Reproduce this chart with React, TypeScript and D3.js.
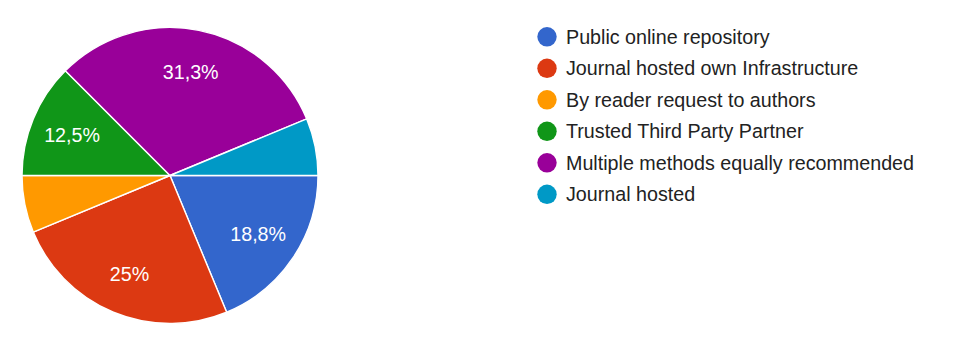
import React, { useEffect, useRef } from "react";
import * as d3 from "d3";

const categories = [
  "Public online repository",
  "Journal hosted own Infrastructure",
  "By reader request to authors",
  "Trusted Third Party Partner",
  "Multiple methods equally recommended",
  "Journal hosted",
];
const counts = [3, 4, 1, 2, 5, 1];
const colors = ["#3366cc", "#dc3912", "#ff9900", "#109618", "#990099", "#0099c6"];

const App: React.FC = () => {
  const svgRef = useRef<SVGSVGElement>(null);

  useEffect(() => {
    if (!svgRef.current) return;
    const svg = d3.select(svgRef.current);
    svg.selectAll("*").remove();

    const width = 957;
    const height = 345;
    const cx = 170;
    const cy = 175.5;
    const radius = 148;
    const font = "Arial, 'Liberation Sans', sans-serif";
    const fontSize = 19.7;

    const data = categories.map((name, i) => ({ name, value: counts[i], color: colors[i] }));
    const total = d3.sum(counts);

    const pie = d3
      .pie<any>()
      .sort(null)
      .value((d) => d.value)
      .startAngle(Math.PI / 2)
      .endAngle(Math.PI / 2 + 2 * Math.PI);

    const arc = d3.arc<any>().innerRadius(0).outerRadius(radius);
    const labelArc = d3.arc<any>().innerRadius(106).outerRadius(106);

    const g = svg.append("g").attr("transform", `translate(${cx},${cy})`);
    const arcs = pie(data);

    g.selectAll("path")
      .data(arcs)
      .enter()
      .append("path")
      .attr("d", arc)
      .attr("fill", (d) => d.data.color)
      .attr("stroke", "#ffffff")
      .attr("stroke-width", 1.4);

    const fmt = (v: number) => {
      const p = (v / total) * 100;
      const r = Math.round(p * 10) / 10;
      return (Number.isInteger(r) ? String(r) : r.toFixed(1).replace(".", ",")) + "%";
    };

    g.selectAll("text.lbl")
      .data(arcs.filter((d) => d.data.value / total > 0.1))
      .enter()
      .append("text")
      .attr("class", "lbl")
      .attr("transform", (d) => `translate(${labelArc.centroid(d)})`)
      .attr("text-anchor", "middle")
      .attr("dy", "0.36em")
      .attr("font-family", font)
      .attr("font-size", fontSize)
      .attr("fill", "#ffffff")
      .text((d) => fmt(d.data.value));

    // legend
    const ly = d3.scalePoint<string>().domain(categories).range([36.8, 194.3]);
    const legend = svg
      .append("g")
      .selectAll("g")
      .data(data)
      .enter()
      .append("g")
      .attr("transform", (d) => `translate(547,${ly(d.name)})`);

    legend.append("circle").attr("r", 9.7).attr("fill", (d) => d.color);

    legend
      .append("text")
      .attr("x", 19)
      .attr("dy", "0.36em")
      .attr("font-family", font)
      .attr("font-size", fontSize)
      .attr("fill", "#222222")
      .text((d) => d.name);

    svg.attr("width", width).attr("height", height);
  }, []);

  return (
    <svg
      ref={svgRef}
      width={957}
      height={345}
      style={{ position: "absolute", left: 0, top: 0, background: "#ffffff" }}
    />
  );
};

export default App;
